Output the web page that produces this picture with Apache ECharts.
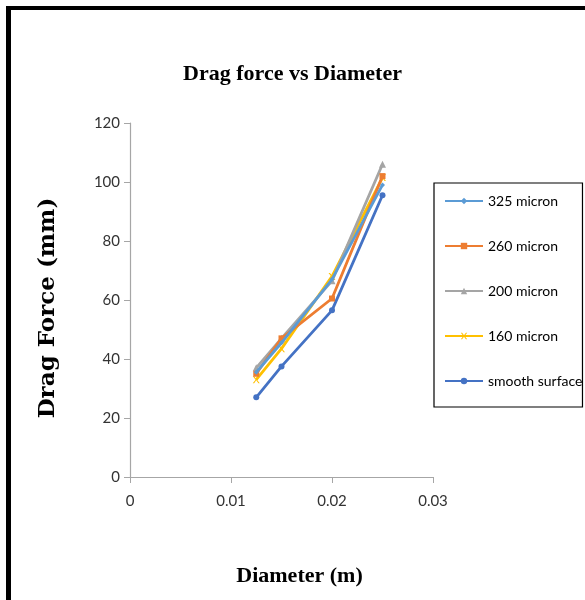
<!DOCTYPE html>
<html>
<head>
<meta charset="utf-8">
<script src="https://cdn.jsdelivr.net/npm/echarts@6/dist/echarts.min.js"></script>
<style>
  html, body { margin: 0; padding: 0; background: #ffffff; }
  #chart { width: 585px; height: 600px; }
</style>
</head>
<body>
<div id="chart"></div>
<script>
// Sphere diameters (m)
const diameters = [0.0125, 0.015, 0.02, 0.025];

// Drag force per surface roughness
const micron325 = [35.5, 45.5, 67, 99];
const micron260 = [35, 47, 60.5, 102];
const micron200 = [37, 47, 66.5, 106];
const micron160 = [33, 43.5, 68, 101.5];
const smoothSurface = [27, 37.5, 56.5, 95.5];

const seriesNames = ['325 micron', '260 micron', '200 micron', '160 micron', 'smooth surface'];
const seriesValues = [micron325, micron260, micron200, micron160, smoothSurface];
const seriesColors = ['#5B9BD5', '#ED7D31', '#A5A5A5', '#FFC000', '#4472C4'];
const seriesSymbols = [
  'diamond',
  'rect',
  'triangle',
  'path://M0,0 L2,0 L5,4 L8,0 L10,0 L6,5 L10,10 L8,10 L5,6 L2,10 L0,10 L4,5 Z',
  'circle'
];
const seriesSymbolSizes = [5, 6, 7, 7, 6];

const serif = '"Liberation Serif", "DejaVu Serif", serif';
const wideSerif = '"DejaVu Serif", "Liberation Serif", serif';
const sans = 'Lato, "Liberation Sans", sans-serif';

const chart = echarts.init(document.getElementById('chart'), null, { renderer: 'canvas' });

const series = seriesNames.map((name, i) => ({
  name: name,
  type: 'line',
  data: diameters.map((d, j) => [d, seriesValues[i][j]]),
  symbol: seriesSymbols[i],
  symbolSize: seriesSymbolSizes[i],
  showAllSymbol: true,
  lineStyle: { color: seriesColors[i], width: 2.8 },
  itemStyle: { color: seriesColors[i] },
  emphasis: { disabled: true },
  z: 2 + (i === 4 ? 0 : 4 - i)
}));

chart.setOption({
  backgroundColor: '#ffffff',
  animation: false,
  graphic: [
    { type: 'rect', shape: { x: 6, y: 6, width: 5, height: 594 }, style: { fill: '#000' } },
    { type: 'rect', shape: { x: 6, y: 6, width: 579, height: 4 }, style: { fill: '#000' } }
  ],
  title: {
    text: 'Drag force vs Diameter',
    left: 'center',
    top: 58,
    textStyle: { fontFamily: serif, fontWeight: 'bold', fontSize: 22, color: '#000' }
  },
  legend: {
    orient: 'vertical',
    left: 434,
    top: 183,
    width: 149,
    itemWidth: 38,
    itemHeight: 8,
    itemGap: 31,
    padding: [11, 0, 19, 10],
    borderColor: '#000',
    borderWidth: 1.2,
    backgroundColor: '#fff',
    textStyle: { fontFamily: sans, fontSize: 14, color: '#000' },
    data: seriesNames
  },
  grid: { left: 130, right: 152, top: 123, bottom: 123, containLabel: false },
  xAxis: {
    type: 'value',
    min: 0,
    max: 0.03,
    interval: 0.01,
    name: 'Diameter (m)',
    nameLocation: 'middle',
    nameGap: 88,
    nameTextStyle: { fontFamily: serif, fontWeight: 'bold', fontSize: 22, color: '#000', padding: [0, 0, 0, 36] },
    axisLine: { show: true, lineStyle: { color: '#A6A6A6', width: 1.2 } },
    axisTick: { show: true, inside: false, length: 6, lineStyle: { color: '#A6A6A6' } },
    axisLabel: { fontFamily: sans, fontSize: 15, color: '#333', margin: 17 },
    splitLine: { show: false }
  },
  yAxis: {
    type: 'value',
    min: 0,
    max: 120,
    interval: 20,
    name: 'Drag Force (mm)',
    nameLocation: 'middle',
    nameGap: 70,
    nameRotate: 90,
    nameTextStyle: { fontFamily: wideSerif, fontWeight: 'bold', fontSize: 23, color: '#000', padding: [0, 16, 0, 0] },
    axisLine: { show: true, lineStyle: { color: '#A6A6A6', width: 1.2 } },
    axisTick: { show: true, inside: false, length: 6, lineStyle: { color: '#A6A6A6' } },
    axisLabel: { fontFamily: sans, fontSize: 15, color: '#333', margin: 10 },
    splitLine: { show: false }
  },
  series: series
});
</script>
</body>
</html>
